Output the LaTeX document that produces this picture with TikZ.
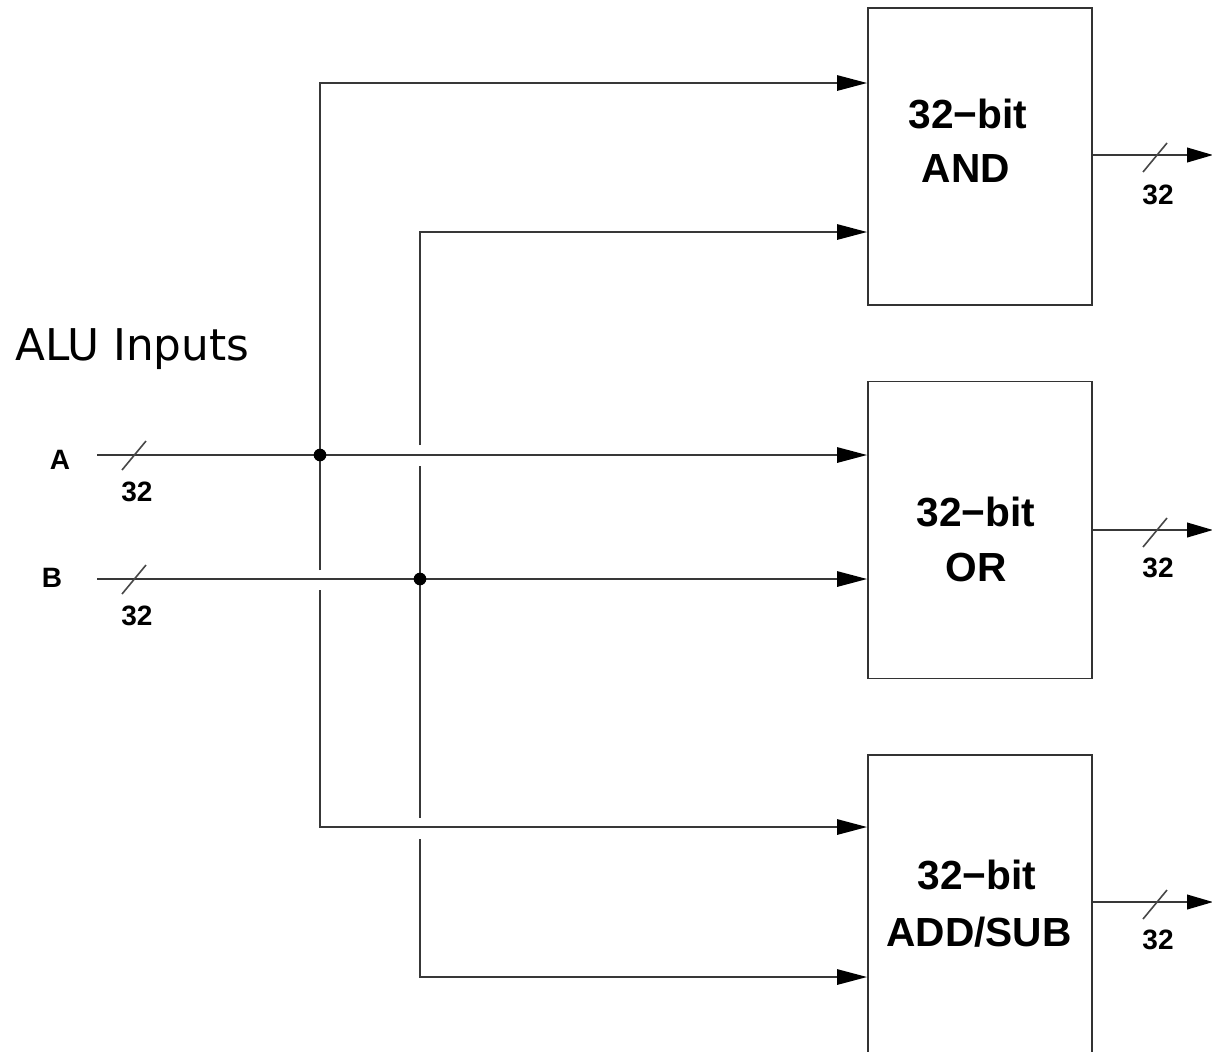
\documentclass[tikz,border=0pt]{standalone}
\usepackage{fontspec}
\setmainfont{Liberation Sans}
\newfontfamily\dejavu{DejaVu Sans}
\usetikzlibrary{arrows.meta}
\tikzset{
  wire/.style={draw=black!78, line width=1.4pt},
  arrowwire/.style={wire, -{Triangle[length=22.5pt,width=11.5pt,fill=black,color=black]}},
  outwire/.style={wire, -{Triangle[length=19.5pt,width=11pt,fill=black,color=black]}},
  box/.style={draw=black!80, line width=1.4pt, fill=white, minimum width=168pt, minimum height=222.75pt, inner sep=0pt},
  boxtext/.style={font=\fontsize{30.5}{34}\selectfont\bfseries, inner sep=0pt, text=black},
  smalltext/.style={font=\fontsize{21}{24}\selectfont\bfseries, inner sep=0pt, text=black},
  slash/.style={draw=black!72, line width=1.2pt},
  dot/.style={circle, fill=black, inner sep=0pt, minimum size=9.5pt}
}
\begin{document}
\begin{tikzpicture}[x=0.75pt,y=-0.75pt]
\clip (0,0) rectangle (1212,1051);
\fill[white] (0,0) rectangle (1212,1051);

% boxes
\node[box] (and) at (980,156.5) {};
\node[box] (or) at (980,530) {};
\node[box, anchor=north, minimum height=260pt] (add) at (980,754) {};

\node[boxtext] (andt1) at (968,114) {32−bit};
\node[boxtext] (andt2) at (966,169) {AND};
\node[boxtext] (ort1) at (976,512) {32−bit};
\node[boxtext] (ort2) at (976,567) {OR};
\node[boxtext] (addt1) at (977,875) {32−bit};
\node[boxtext] (addt2) at (979,932) {ADD/SUB};

% title
\node[font=\dejavu\fontsize{32.8}{36}\selectfont, anchor=base west, inner sep=0pt] (title) at (15,360) {ALU Inputs};

% inputs
\node[smalltext] (la) at (60,460) {A};
\node[smalltext] (lb) at (52,578) {B};
\coordinate (a0) at (97,455);
\coordinate (b0) at (97,579);
\draw[arrowwire] (a0) -- (or.west |- a0);
\draw[arrowwire] (b0) -- (or.west |- b0);
\coordinate (sa1) at (122,470); \coordinate (sa2) at (146,441);
\coordinate (sb1) at (122,594); \coordinate (sb2) at (146,565);
\draw[slash] (sa1) -- (sa2);
\draw[slash] (sb1) -- (sb2);
\node[smalltext] (na) at (137,492) {32};
\node[smalltext] (nb) at (137,616) {32};

% first distribution line (A)
\coordinate (p1top) at (320,83);
\coordinate (p1bot) at (320,827);
\coordinate (g1a) at (320,570);
\coordinate (g1b) at (320,590);
\draw[arrowwire] (g1a) -- (p1top) -- (and.west |- p1top);
\draw[arrowwire] (g1b) -- (p1bot) -- (add.west |- p1bot);

% second distribution line (B)
\coordinate (p2top) at (420,232);
\coordinate (p2bot) at (420,977);
\coordinate (g2a) at (420,445);
\coordinate (g2b) at (420,466);
\coordinate (g2c) at (420,818);
\coordinate (g2d) at (420,839);
\draw[arrowwire] (g2a) -- (p2top) -- (and.west |- p2top);
\draw[wire] (g2b) -- (g2c);
\draw[arrowwire] (g2d) -- (p2bot) -- (add.west |- p2bot);

% junctions
\node[dot] (ja) at (320,455) {};
\node[dot] (jb) at (420,579) {};

% outputs
\coordinate (o1) at (1213,155);
\coordinate (o2) at (1213,530);
\coordinate (o3) at (1213,902);
\draw[outwire] (and.east |- o1) -- (o1);
\draw[outwire] (or.east |- o2) -- (o2);
\draw[outwire] (add.east |- o3) -- (o3);
\coordinate (s11) at (1143,172); \coordinate (s12) at (1167,143);
\coordinate (s21) at (1143,547); \coordinate (s22) at (1167,518);
\coordinate (s31) at (1143,919); \coordinate (s32) at (1167,890);
\draw[slash] (s11) -- (s12);
\draw[slash] (s21) -- (s22);
\draw[slash] (s31) -- (s32);
\node[smalltext] (n1) at (1158,195) {32};
\node[smalltext] (n2) at (1158,568) {32};
\node[smalltext] (n3) at (1158,940) {32};
\end{tikzpicture}
\end{document}
